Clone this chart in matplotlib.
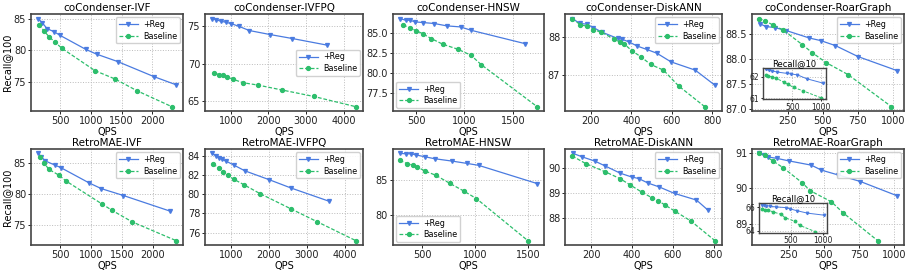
import numpy as np
import matplotlib
matplotlib.use("Agg")
import matplotlib.pyplot as plt

# ---- data (QPS, Recall@100) ----
titles = ["coCondenser-IVF", "coCondenser-IVFPQ", "coCondenser-HNSW", "coCondenser-DiskANN", "coCondenser-RoarGraph",
          "RetroMAE-IVF", "RetroMAE-IVFPQ", "RetroMAE-HNSW", "RetroMAE-DiskANN", "RetroMAE-RoarGraph"]

cc_ivf_reg_x = [142, 211, 289, 411, 500, 921, 1095, 1437, 2026, 2384]
cc_ivf_reg_y = [85.0, 84.37, 83.42, 82.9, 82.37, 80.16, 79.42, 78.26, 75.9, 74.63]
cc_ivf_base_x = [158, 247, 326, 421, 526, 1068, 1395, 1753, 2316]
cc_ivf_base_y = [84.05, 83.0, 82.1, 81.3, 80.37, 76.84, 75.53, 73.68, 71.2]

cc_ivfpq_reg_x = [506, 605, 730, 865, 1000, 1207, 1494, 2042, 2635, 3560]
cc_ivfpq_reg_y = [76.02, 75.88, 75.66, 75.53, 75.35, 75.0, 74.42, 73.89, 73.36, 72.48]
cc_ivfpq_base_x = [560, 694, 786, 911, 1073, 1324, 1719, 2375, 3201, 4324]
cc_ivfpq_base_y = [68.8, 68.54, 68.45, 68.23, 67.92, 67.48, 67.17, 66.5, 65.66, 64.29]

cc_hnsw_reg_x = [333, 393, 433, 493, 573, 690, 817, 960, 1067, 1623]
cc_hnsw_reg_y = [86.74, 86.53, 86.53, 86.32, 86.24, 86.12, 85.83, 85.70, 85.29, 83.64]
cc_hnsw_base_x = [367, 443, 500, 567, 657, 777, 933, 1067, 1173, 1750]
cc_hnsw_base_y = [85.95, 85.54, 85.25, 84.88, 84.26, 83.56, 82.94, 82.2, 81.04, 75.85]

cc_disk_reg_x = [107, 145, 178, 212, 253, 332, 353, 387, 428, 475, 525, 595, 715, 812]
cc_disk_reg_y = [88.49, 88.36, 88.34, 88.25, 88.13, 87.96, 87.94, 87.87, 87.76, 87.67, 87.57, 87.34, 87.12, 86.72]
cc_disk_base_x = [107, 148, 178, 212, 250, 315, 342, 365, 403, 445, 495, 558, 633, 762]
cc_disk_base_y = [88.49, 88.32, 88.29, 88.19, 88.13, 87.94, 87.87, 87.81, 87.63, 87.48, 87.27, 87.12, 86.70, 86.15]

cc_roar_reg_x = [48, 91, 155, 238, 404, 483, 589, 751, 1030]
cc_roar_reg_y = [88.71, 88.65, 88.63, 88.57, 88.42, 88.37, 88.27, 88.05, 87.77]
cc_roar_base_x = [43, 84, 143, 217, 352, 423, 523, 680, 990]
cc_roar_base_y = [88.81, 88.77, 88.68, 88.58, 88.29, 88.13, 87.93, 87.69, 87.05]
cc_roar_reg_r10 = [62.33, 62.3, 62.26, 62.21, 62.15, 62.12, 62.08, 61.9, 61.7]
cc_roar_base_r10 = [62.06, 62.03, 61.99, 61.93, 61.75, 61.65, 61.5, 61.35, 61.03]

rm_ivf_reg_x = [142, 195, 263, 411, 511, 974, 1168, 1526, 2274]
rm_ivf_reg_y = [86.6, 86.07, 85.37, 84.73, 84.3, 81.79, 80.88, 79.76, 77.25]
rm_ivf_base_x = [168, 247, 316, 489, 589, 1174, 1342, 1668, 2379]
rm_ivf_base_y = [86.07, 85.0, 84.04, 83.02, 82.17, 78.42, 77.35, 75.48, 72.43]

rm_ivfpq_reg_x = [506, 605, 695, 757, 865, 1072, 1368, 2015, 2581, 3580]
rm_ivfpq_reg_y = [84.24, 84.0, 83.79, 83.62, 83.45, 83.04, 82.43, 81.5, 80.65, 79.28]
rm_ivfpq_base_x = [533, 686, 785, 911, 1072, 1341, 1764, 2572, 3264, 4290]
rm_ivfpq_base_y = [83.15, 82.70, 82.36, 81.95, 81.57, 80.99, 80.07, 78.5, 77.16, 75.18]

rm_hnsw_reg_x = [288, 348, 394, 445, 524, 615, 779, 918, 1030, 1582]
rm_hnsw_reg_y = [88.81, 88.76, 88.76, 88.57, 88.33, 88.05, 87.71, 87.38, 87.1, 84.48]
rm_hnsw_base_x = [288, 358, 409, 448, 524, 627, 758, 888, 1009, 1494]
rm_hnsw_base_y = [87.81, 87.33, 87.14, 86.9, 86.29, 85.67, 84.52, 83.43, 82.33, 76.29]

rm_disk_reg_x = [112, 157, 217, 267, 342, 398, 432, 478, 532, 608, 715, 770]
rm_disk_reg_y = [90.56, 90.42, 90.26, 90.07, 89.78, 89.63, 89.57, 89.39, 89.24, 88.98, 88.72, 88.33]
rm_disk_base_x = [107, 173, 270, 340, 392, 450, 495, 528, 562, 612, 690, 805]
rm_disk_base_y = [90.46, 90.16, 89.83, 89.57, 89.31, 89.02, 88.82, 88.69, 88.52, 88.27, 87.88, 87.12]

rm_roar_reg_x = [39, 72, 103, 167, 252, 411, 483, 597, 760, 1020]
rm_roar_reg_y = [90.98, 90.93, 90.88, 90.84, 90.77, 90.65, 90.51, 90.38, 90.19, 89.79]
rm_roar_base_x = [39, 79, 138, 210, 345, 404, 554, 637, 882]
rm_roar_base_y = [90.98, 90.93, 90.77, 90.58, 90.16, 89.93, 89.62, 89.31, 88.53]
rm_roar_reg_r10 = [66.22, 66.18, 66.14, 66.08, 66.03, 65.97, 65.86, 65.7, 65.5, 65.33]
rm_roar_base_r10 = [65.85, 65.8, 65.75, 65.61, 65.39, 65.11, 64.83, 64.47, 63.94]

series = [
    (cc_ivf_reg_x, cc_ivf_reg_y, cc_ivf_base_x, cc_ivf_base_y),
    (cc_ivfpq_reg_x, cc_ivfpq_reg_y, cc_ivfpq_base_x, cc_ivfpq_base_y),
    (cc_hnsw_reg_x, cc_hnsw_reg_y, cc_hnsw_base_x, cc_hnsw_base_y),
    (cc_disk_reg_x, cc_disk_reg_y, cc_disk_base_x, cc_disk_base_y),
    (cc_roar_reg_x, cc_roar_reg_y, cc_roar_base_x, cc_roar_base_y),
    (rm_ivf_reg_x, rm_ivf_reg_y, rm_ivf_base_x, rm_ivf_base_y),
    (rm_ivfpq_reg_x, rm_ivfpq_reg_y, rm_ivfpq_base_x, rm_ivfpq_base_y),
    (rm_hnsw_reg_x, rm_hnsw_reg_y, rm_hnsw_base_x, rm_hnsw_base_y),
    (rm_disk_reg_x, rm_disk_reg_y, rm_disk_base_x, rm_disk_base_y),
    (rm_roar_reg_x, rm_roar_reg_y, rm_roar_base_x, rm_roar_base_y),
]
legend_locs = ["upper right", "center right", "lower left", "upper right", "upper right",
               "upper right", "upper right", "lower left", "upper right", "upper right"]

REG_C = "#4a7be0"
BASE_C = "#2dbe6c"
EDGE_C = "#444444"

# ---- layout ----
fig = plt.figure(figsize=(9.09, 2.71), dpi=100)
col_l = [0.0341, 0.2255, 0.4323, 0.6216, 0.8273]
col_w = [0.1672, 0.1738, 0.1662, 0.1727, 0.1672]
row_b = [0.590, 0.096]
row_h = [0.358, 0.354]


def style_axes(ax, fs=7):
    ax.grid(True, linestyle=":", color="#bbbbbb", linewidth=0.7)
    ax.set_axisbelow(True)
    for sp in ax.spines.values():
        sp.set_color(EDGE_C)
        sp.set_linewidth(1.2)
    ax.tick_params(labelsize=fs, length=2, width=0.7, pad=1.5, colors="#222222")


def draw(ax, rx, ry, bx, by, ms=2.8, lw=0.9):
    ax.plot(rx, ry, color=REG_C, marker="v", markersize=ms, linewidth=lw, label="+Reg")
    ax.plot(bx, by, color=BASE_C, marker="o", markersize=ms, linewidth=lw, linestyle="--",
            dashes=(3, 1.5), label="Baseline")


axes = []
for i, (rx, ry, bx, by) in enumerate(series):
    r, c = divmod(i, 5)
    ax = fig.add_axes([col_l[c], row_b[r], col_w[c], row_h[r]])
    draw(ax, rx, ry, bx, by)
    style_axes(ax)
    ax.set_title(titles[i], fontsize=7.5, pad=2)
    ax.set_xlabel("QPS", fontsize=7, labelpad=0.5)
    if c == 0:
        ax.set_ylabel("Recall@100", fontsize=7, labelpad=1)
    ax.legend(loc=legend_locs[i], fontsize=5.8, handlelength=2.4, borderpad=0.35,
              labelspacing=0.3, handletextpad=0.6, framealpha=0.9, borderaxespad=0.4)
    axes.append(ax)

# y ticks
axes[0].set_yticks([75, 80, 85])
axes[1].set_yticks([65, 70, 75])
axes[2].set_yticks([77.5, 80.0, 82.5, 85.0])
axes[2].yaxis.set_major_formatter(matplotlib.ticker.FormatStrFormatter("%.1f"))
axes[3].set_yticks([87, 88])
axes[4].set_yticks([87.0, 87.5, 88.0, 88.5])
axes[4].yaxis.set_major_formatter(matplotlib.ticker.FormatStrFormatter("%.1f"))
axes[5].set_yticks([75, 80, 85])
axes[6].set_yticks([76, 78, 80, 82, 84])
axes[7].set_yticks([80, 85])
axes[8].set_yticks([88, 89, 90])
axes[9].set_yticks([89, 90, 91])
for k in (3, 8):
    axes[k].set_xticks([200, 400, 600, 800])
for k in (4, 9):
    axes[k].set_xticks([250, 500, 750, 1000])

# insets (Recall@10)
insets = [
    (axes[4], cc_roar_reg_x, cc_roar_reg_r10, cc_roar_base_x, cc_roar_base_r10, [0.072, 0.124, 0.414, 0.32], [61, 62]),
    (axes[9], rm_roar_reg_x, rm_roar_reg_r10, rm_roar_base_x, rm_roar_base_r10, [0.046, 0.125, 0.447, 0.31], [64, 66]),
]
for parent, rx, ry, bx, by, pos, yt in insets:
    ia = parent.inset_axes(pos)
    draw(ia, rx, ry, bx, by, ms=1.8, lw=0.7)
    style_axes(ia, fs=5.5)
    for sp in ia.spines.values():
        sp.set_linewidth(1.0)
    ia.set_facecolor("white")
    ia.set_xticks([500, 1000])
    ia.set_yticks(yt)
    ia.set_title("Recall@10", fontsize=6, pad=1.5)
    ia.tick_params(length=1.5, pad=1)

fig.savefig("out.png", dpi=100)
